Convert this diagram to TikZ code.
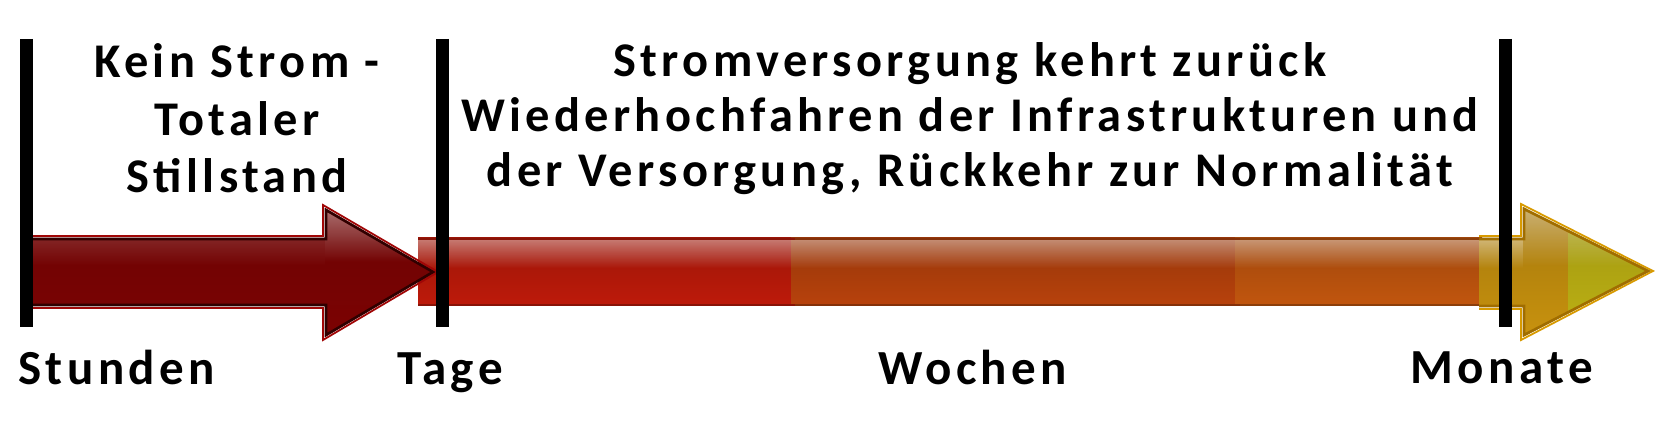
\documentclass[tikz,border=0pt]{standalone}
\usepackage{fontspec}
\setmainfont{Carlito}[LetterSpace=9]
\usetikzlibrary{fadings}
\definecolor{cDarkTop}{HTML}{6C0404}
\definecolor{cDarkMid}{HTML}{560000}
\definecolor{cDarkBot}{HTML}{7C0202}
\definecolor{cDarkRim}{HTML}{300000}
\definecolor{cDarkEdge}{HTML}{A00606}
\definecolor{cRed}{HTML}{BE1A0A}
\definecolor{cBrown}{HTML}{B8420C}
\definecolor{cOrange}{HTML}{C2560E}
\definecolor{cGold}{HTML}{C8920E}
\definecolor{cGoldRim}{HTML}{C88800}
\definecolor{cGoldEdge}{HTML}{D89A00}
\definecolor{cLime}{HTML}{C0B414}
\tikzfading[name=gloss, top color=transparent!58, bottom color=transparent!100]
\begin{document}
\begin{tikzpicture}[x=0.5pt,y=-0.5pt]
\tikzset{
  segfill/.style={top color=#1!82!black, middle color=#1!84!black, bottom color=#1},
  glossy/.style={fill=white, path fading=gloss},
  edgeline/.style={draw=#1, line width=1pt},
  tickbar/.style={line width=6.5pt, black},
  lbl/.style={font=\fontsize{24.5}{29}\selectfont\bfseries, inner sep=0pt, anchor=base west},
  headtxt/.style={inner sep=0pt, align=center, anchor=base},
}
\useasboundingbox (0,0) rectangle (1680,426);
\fill[white] (0,0) rectangle (1680,426);
% long bar segments
\path[segfill=cRed] (418,238) rectangle (795,306);
\path[segfill=cBrown] (791,238) rectangle (1240,306);
\path[segfill=cOrange] (1235,238) rectangle (1482,306);
\path[glossy] (418,240) rectangle (1482,268);
\draw[edgeline=cRed!72!black] (418,239) -- (795,239) (418,305) -- (795,305);
\draw[edgeline=cBrown!72!black] (795,239) -- (1240,239) (795,305) -- (1240,305);
\draw[edgeline=cOrange!72!black] (1240,239) -- (1482,239) (1240,305) -- (1482,305);
% gold end arrow
\draw[cGoldEdge, line width=0.9pt, line join=miter] (1479,236) -- (1521,236) -- (1521,204) -- (1653,271) -- (1521,340) -- (1521,309) -- (1479,309);
\path[segfill=cGold] (1479,238) -- (1523,238) -- (1523,207) -- (1650,271) -- (1523,337) -- (1523,307) -- (1479,307) -- cycle;
\begin{scope}
\clip (1479,238) -- (1523,238) -- (1523,207) -- (1650,271) -- (1523,337) -- (1523,307) -- (1479,307) -- cycle;
\path[segfill=cLime] (1568,200) rectangle (1660,345);
\path[glossy] (1523,209) rectangle (1660,266);
\path[glossy] (1479,240) rectangle (1523,268);
\end{scope}
\draw[cGoldRim!80!black, line width=1.3pt, line join=miter] (1479,239) -- (1524,239) -- (1524,209) -- (1648,271) -- (1524,335) -- (1524,306) -- (1479,306);
% dark arrow
\draw[cDarkEdge, line width=0.9pt, line join=miter] (26,236) -- (323,236) -- (323,205) -- (438,272) -- (323,340) -- (323,308) -- (26,308);
\path[top color=cDarkTop, middle color=cDarkMid, bottom color=cDarkBot] (26,238) -- (325,238) -- (325,208) -- (435,272) -- (325,337) -- (325,306) -- (26,306) -- cycle;
\begin{scope}
\clip (26,238) -- (325,238) -- (325,208) -- (435,272) -- (325,337) -- (325,306) -- (26,306) -- cycle;
\path[glossy] (325,210) rectangle (440,262);
\path[glossy, opacity=0.3] (26,240) rectangle (325,266);
\end{scope}
\draw[cDarkRim, line width=1.3pt, line join=miter] (26,239) -- (326,239) -- (326,210) -- (433,272) -- (326,335) -- (326,305) -- (26,305);
% time marks
\draw[tickbar] (26,39) -- (26,327);
\draw[tickbar] (442,39) -- (442,327);
\draw[tickbar] (1505,39) -- (1505,327);
% texts
\node[headtxt, font=\fontsize{24.2}{28.75}\selectfont\bfseries] (kein) at (237,193) {Kein Strom -\\Totaler\\Stillstand};
\node[headtxt, font=\fontsize{24.2}{27.5}\selectfont\bfseries] (strom) at (970,187) {Stromversorgung kehrt zurück\\Wiederhochfahren der Infrastrukturen und\\der Versorgung, Rückkehr zur Normalität};
\node[lbl] (stunden) at (18,385) {Stunden};
\node[lbl] (tage) at (397,385) {Tage};
\node[lbl] (wochen) at (878,385) {Wochen};
\node[lbl] (monate) at (1410,384) {Monate};
\end{tikzpicture}
\end{document}
